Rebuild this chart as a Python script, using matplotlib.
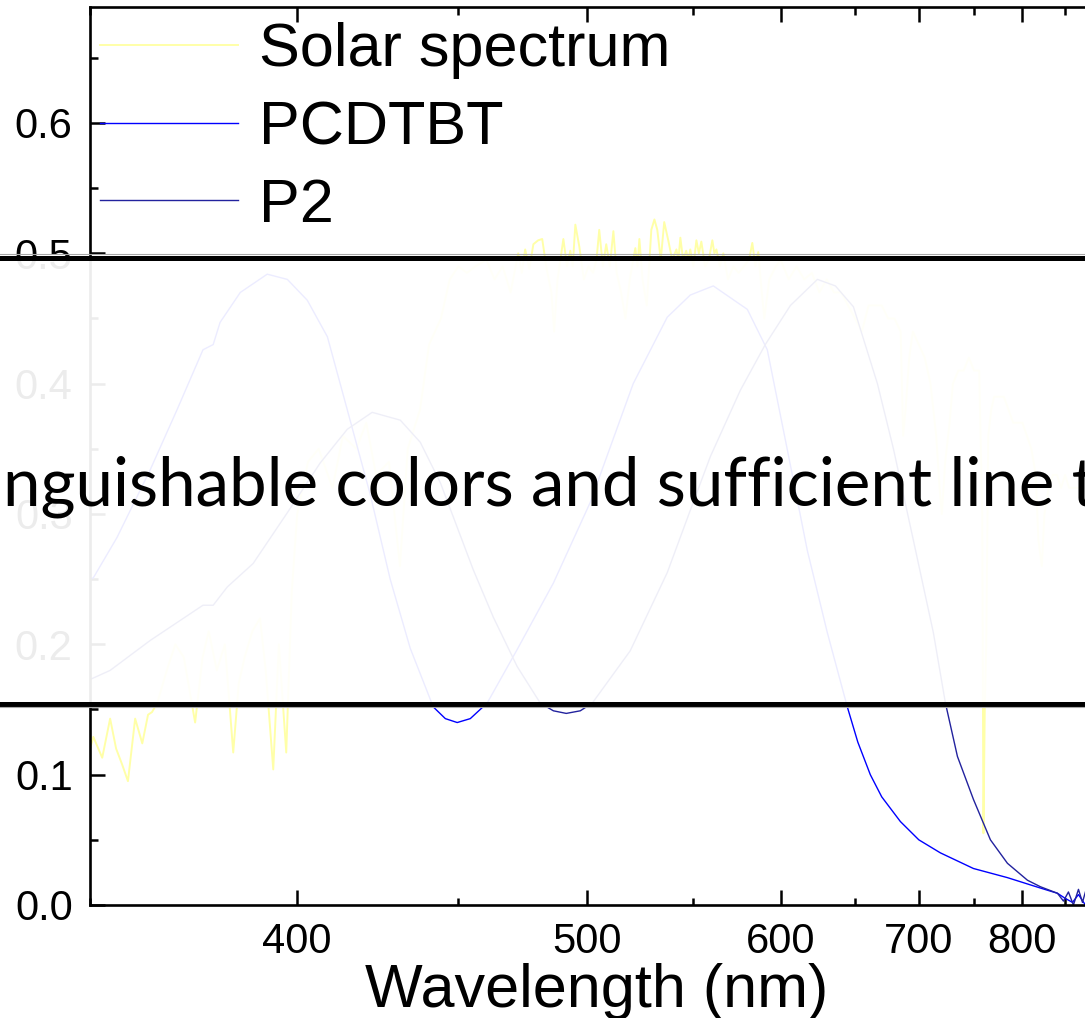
import numpy as np
import matplotlib
matplotlib.use("Agg")
import matplotlib.pyplot as plt
from matplotlib.lines import Line2D
from matplotlib.patches import Rectangle
from matplotlib.ticker import FixedLocator, FormatStrFormatter

plt.rcParams['font.family'] = ['Liberation Sans', 'DejaVu Sans']

# AM1.5 solar spectrum (scaled)
solar_nm = [349.8, 350.7, 352.6, 354.3, 355.6, 356.9, 358.2, 359.8, 361.4, 362.7, 363.6, 364.8,
            367, 369, 371, 373.7, 375.5, 377, 379, 381, 383.1, 384.5, 386, 388, 390, 391.5,
            393.5, 395, 397.0, 398.5, 400, 403, 406, 410, 413, 417, 420, 423, 427, 430.5, 433,
            437, 440, 444, 447, 450, 453, 456, 460, 463, 466, 469,
            471.9, 473.3, 474.6, 476.2, 477.8, 479.7, 481.3, 482.9, 485, 486.1, 487.5, 489.9,
            491.4, 492.8, 493.8, 494.9, 496.6, 498.5, 500.5, 502.5, 504, 505.2, 506.8, 508.3,
            509.9, 511.5, 513, 515, 517, 519, 521.6, 522.6, 523.5, 525, 527, 529.2, 530.7,
            532.1, 533.8, 535.5, 537.5, 539.5, 541.6, 542.6, 543.6, 545, 546.6, 547.7, 548.7,
            550.3, 551.9, 553.2, 554.5, 556.5, 558.5, 560.4, 561.5, 562.6, 564.5, 566.4, 569,
            572, 575, 578, 581, 582.9, 584.7, 586.4, 588.5, 590, 593, 597, 600, 605, 610, 615,
            620, 625, 630, 635, 640, 645, 650, 655, 660, 665, 670, 675, 680, 685, 687, 689,
            692, 695, 700, 705, 710, 715, 718, 720, 723, 727, 730, 735, 740, 745, 750, 755,
            758, 759.2, 760.5, 762, 764, 767, 770, 775, 780, 785, 790, 795, 800, 805, 810, 815,
            818, 822, 825, 830, 835, 840, 845, 850, 855, 860, 865, 870, 875, 880, 885, 890,
            895, 900]
solar_val = [0.117, 0.129, 0.113, 0.143, 0.120, 0.108, 0.095, 0.143, 0.124, 0.146, 0.148, 0.155,
             0.18, 0.20, 0.19, 0.140, 0.19, 0.21, 0.18, 0.20, 0.117, 0.17, 0.19, 0.21, 0.22, 0.18,
             0.104, 0.20, 0.117, 0.24, 0.30, 0.34, 0.35, 0.32, 0.36, 0.35, 0.37, 0.33, 0.34, 0.26, 0.35,
             0.38, 0.43, 0.45, 0.48, 0.49, 0.485, 0.49, 0.495, 0.48, 0.49, 0.47,
             0.500, 0.485, 0.503, 0.488, 0.507, 0.510, 0.511, 0.490, 0.47, 0.44, 0.48, 0.511,
             0.49, 0.502, 0.49, 0.522, 0.505, 0.48, 0.49, 0.485, 0.495, 0.518, 0.49, 0.507,
             0.49, 0.517, 0.485, 0.47, 0.45, 0.48, 0.504, 0.49, 0.511, 0.48, 0.46, 0.518, 0.526,
             0.518, 0.495, 0.524, 0.51, 0.495, 0.503, 0.495, 0.512, 0.495, 0.502, 0.495, 0.503,
             0.49, 0.510, 0.50, 0.509, 0.49, 0.495, 0.510, 0.50, 0.503, 0.49, 0.500, 0.48,
             0.49, 0.485, 0.49, 0.495, 0.508, 0.49, 0.501, 0.47, 0.45, 0.48, 0.49, 0.495, 0.48, 0.49, 0.48,
             0.485, 0.47, 0.48, 0.47, 0.47, 0.46, 0.45, 0.44, 0.46, 0.46, 0.46, 0.45, 0.45, 0.44, 0.36, 0.38,
             0.42, 0.44, 0.43, 0.42, 0.40, 0.36, 0.32, 0.30, 0.34, 0.37, 0.40, 0.41, 0.41, 0.42, 0.41, 0.41,
             0.30, 0.055, 0.15, 0.20, 0.36, 0.38, 0.39, 0.39, 0.39, 0.38, 0.37, 0.37, 0.37, 0.36, 0.35, 0.33,
             0.28, 0.26, 0.30, 0.32, 0.33, 0.33, 0.32, 0.33, 0.32, 0.32, 0.32, 0.32, 0.31, 0.31, 0.30, 0.30,
             0.28, 0.26]

pcdtbt_nm = [350.0, 350.7, 355.8, 363.2, 369.4, 375.6, 378.1, 379.8, 384.9, 391.9, 397.3, 402.8,
             408.5, 414.3, 421.2, 427.4, 433.8, 441.4, 445.5, 449.6, 454.2, 460.3, 471.5, 485.8,
             501.3, 520.6, 537.0, 548.7, 560.9, 580.0, 591.8, 604.2, 617.0, 630.4, 644.4, 652.0,
             661.3, 670.0, 684.8, 700.0, 718.7, 749.4, 783.8, 820.4, 840.6, 850.4, 859.3, 867.0, 876.1]
pcdtbt_val = [0.250, 0.251, 0.282, 0.334, 0.380, 0.426, 0.430, 0.447, 0.470, 0.484, 0.480, 0.464,
              0.436, 0.380, 0.315, 0.250, 0.197, 0.152, 0.143, 0.140, 0.143, 0.155, 0.196, 0.247,
              0.309, 0.400, 0.451, 0.468, 0.475, 0.457, 0.426, 0.349, 0.272, 0.209, 0.152, 0.125,
              0.100, 0.083, 0.064, 0.050, 0.040, 0.028, 0.021, 0.013, 0.009, 0.005, 0.002, 0.008, 0.000]

p2_nm = [350.0, 354.3, 363.2, 375.6, 378.1, 381.6, 388.2, 397.3, 406.4, 414.3, 421.8, 430.6,
         437.1, 443.8, 455.3, 462.5, 471.5, 480.5, 485.8, 491.1, 497.0, 502.2, 519.2, 537.0,
         548.0, 559.3, 576.0, 590.6, 606.1, 623.7, 636.0, 648.8, 666.7, 679.2, 695.4, 712.5,
         723.2, 734.2, 749.4, 766.2, 783.8, 805.6, 820.4, 840.6, 848.0, 854.2, 860.5, 867.0,
         872.2, 876.1]
p2_val = [0.173, 0.180, 0.203, 0.230, 0.230, 0.244, 0.262, 0.301, 0.339, 0.365, 0.378, 0.372,
          0.355, 0.324, 0.257, 0.221, 0.183, 0.155, 0.149, 0.147, 0.149, 0.155, 0.195, 0.255,
          0.300, 0.344, 0.395, 0.430, 0.460, 0.480, 0.475, 0.459, 0.400, 0.350, 0.280, 0.209,
          0.155, 0.114, 0.081, 0.050, 0.032, 0.019, 0.014, 0.009, 0.003, 0.010, 0.000, 0.012,
          0.002, 0.010]

x_major = [400, 500, 600, 700, 800]
x_minor = [350, 450, 550, 650, 750, 850]
y_major = [0.0, 0.1, 0.2, 0.3, 0.4, 0.5, 0.6]
y_minor = [0.05, 0.15, 0.25, 0.35, 0.45, 0.55, 0.65]

banner = "nguishable colors and sufficient line t"

W, H = 1085, 1018
fig = plt.figure(figsize=(W / 100, H / 100), dpi=100)
ax = fig.add_axes([90 / W, 113 / H, 1013 / W, 898 / H])

# energy-like axis: linear in 1/wavelength
ax.set_xscale('function', functions=(lambda x: -1.0 / x, lambda y: -1.0 / y))

ax.plot(solar_nm, solar_val, color='#ffffa8', lw=1.4, label='Solar spectrum')
ax.plot(pcdtbt_nm, pcdtbt_val, color='#0000ff', lw=1.0, label='PCDTBT')
ax.plot(p2_nm, p2_val, color='#22229e', lw=1.0, label='P2')

ax.set_xlim(350, 900)
ax.set_ylim(0, 0.689)
ax.xaxis.set_major_locator(FixedLocator(x_major))
ax.xaxis.set_minor_locator(FixedLocator(x_minor))
ax.yaxis.set_major_locator(FixedLocator(y_major))
ax.yaxis.set_minor_locator(FixedLocator(y_minor))
ax.yaxis.set_major_formatter(FormatStrFormatter('%.1f'))
ax.xaxis.set_major_formatter(FormatStrFormatter('%d'))

for s in ax.spines.values():
    s.set_linewidth(1.9)
ax.tick_params(which='both', direction='in', top=True, right=True, width=1.8)
ax.tick_params(which='major', length=10.8, labelsize=30)
ax.tick_params(which='minor', length=5.4)
ax.tick_params(axis='y', which='major', pad=12.5)
ax.tick_params(axis='x', which='major', pad=12)

ax.set_xlabel('Wavelength (nm)', fontsize=44, labelpad=1)

ax.legend(loc='upper left', bbox_to_anchor=(85 / W, 1 - 7 / H), bbox_transform=fig.transFigure,
          frameon=False, fontsize=44, handlelength=2.26, handletextpad=0.33,
          borderpad=0.25, borderaxespad=0, labelspacing=0.34)

# slide banner laid over the chart
yb_top = 1 - 257.5 / H
yb_bot = 1 - 703.5 / H
fig.add_artist(Rectangle((0, yb_bot), 1, yb_top - yb_bot, transform=fig.transFigure,
                         facecolor='white', edgecolor='none', alpha=0.93, zorder=5))
fig.add_artist(Line2D([0, 1], [1 - 254 / H] * 2, transform=fig.transFigure,
                      color='#a8a8a8', lw=0.8, zorder=6))
fig.add_artist(Line2D([0, 1], [yb_top] * 2, transform=fig.transFigure,
                      color='black', lw=3.6, zorder=6))
fig.add_artist(Line2D([0, 1], [yb_bot] * 2, transform=fig.transFigure,
                      color='black', lw=3.6, zorder=6))
fig.add_artist(Line2D([0, 1], [1 - 706.5 / H] * 2, transform=fig.transFigure,
                      color='#a8a8a8', lw=0.8, zorder=6))
fig.text(3 / W, 1 - 506 / H, banner, family=['Lato', 'DejaVu Sans'], fontsize=48.4,
         ha='left', va='baseline', color='black', zorder=7)

fig.savefig('out.png', dpi=100)
